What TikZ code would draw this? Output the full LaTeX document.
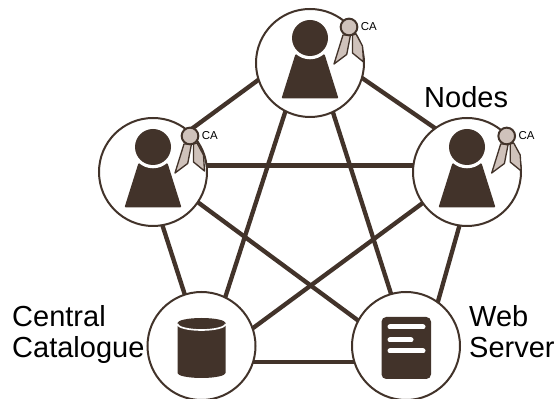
\documentclass[tikz,border=0pt]{standalone}
\usepackage{fontspec}
\setmainfont{Liberation Sans}
\usetikzlibrary{positioning}
\definecolor{bark}{HTML}{42332A}
\definecolor{tan}{HTML}{CFC2BB}
\tikzset{
    member/.style={draw=bark,fill=white,circle,line width=0.06cm,minimum size=3.24cm,inner sep=0pt,outer sep=0pt},
    link/.style={draw=bark,line width=0.13cm},
    seal/.style={draw=bark,fill=tan,circle,line width=0.06cm,minimum size=0.5cm,inner sep=0pt,outer sep=0pt},
    ribbon/.style={draw=bark,fill=tan,line width=0.04cm,line join=round},
    caption/.style={inner sep=0pt,align=left,anchor=base west,font=\fontsize{24.75}{27.3}\selectfont},
    catext/.style={inner sep=0pt,font=\fontsize{9.8}{10}\selectfont},
    slot/.style={white,line width=0.15cm,line cap=round}
}
\begin{document}
\begin{tikzpicture}[x=0.03cm,y=0.03cm]
    \useasboundingbox (0,0) rectangle (556,399);
    %% Circles
    \node[member] (top) at (310,336) {};
    \node[member] (lft) at (153,227) {};
    \node[member] (rgt) at (467,227) {};
    \node[member] (cat) at (201.5,53) {};
    \node[member] (web) at (406,53) {};
    %% Links
    \foreach \a/\b in {top.198/lft.49,top.344/rgt.126,top.243/cat.64,top.295/web.106,lft.7/rgt.173,lft.326/web.152,rgt.215/cat.19,lft.280/cat.108,rgt.262/web.54,cat.343/web.197}
        \draw[link] (\a) -- (\b);
    %% Persons
    \foreach \n/\dx in {top/39,lft/37,rgt/39.7} {
        \begin{scope}[shift={(\n)}]
            \fill[bark,rounded corners=1] (-14.5,9) -- (14.5,9) -- (28.5,-35.5) -- (-28.5,-35.5) -- cycle;
            \fill[white] (0,25) circle (21.3);
            \fill[bark] (0,25) circle (18);
            \draw[ribbon] (\dx-6,28) -- (\dx-15,-1) -- (\dx-2.3,8.5) -- (\dx+1.5,28) -- cycle;
            \draw[ribbon] (\dx+3.5,28) -- (\dx+3.5,10) -- (\dx+14.5,1) -- (\dx+13.5,17) -- (\dx+7,29) -- cycle;
            \node[seal] (seal\n) at (\dx,36) {};
            \node[catext,right=0.1cm of seal\n] (ca\n) {CA};
        \end{scope}
    }
    %% Cylinder
    \begin{scope}[shift={(cat)}]
        \fill[bark] (-24,23) arc[start angle=180,end angle=0,x radius=24,y radius=5] -- (24,-27) arc[start angle=360,end angle=180,x radius=24,y radius=5] -- cycle;
        \draw[white,line width=0.05cm] (-24,22) arc[start angle=180,end angle=360,x radius=24,y radius=6];
    \end{scope}
    %% Server
    \begin{scope}[shift={(web)}]
        \fill[bark,rounded corners=4] (-24.5,29) rectangle (25,-33);
        \draw[slot] (-16,19) -- (17,19);
        \draw[slot] (-16,6) -- (5,6);
        \draw[slot] (-16,-5) -- (17,-5);
    \end{scope}
    %% Labels
    \node[caption] (nodes) at (424,291) {Nodes};
    \node[caption] (central) at (12,41) {Central\\Catalogue};
    \node[caption] (server) at (469,41) {Web\\Server};
\end{tikzpicture}
\end{document}
